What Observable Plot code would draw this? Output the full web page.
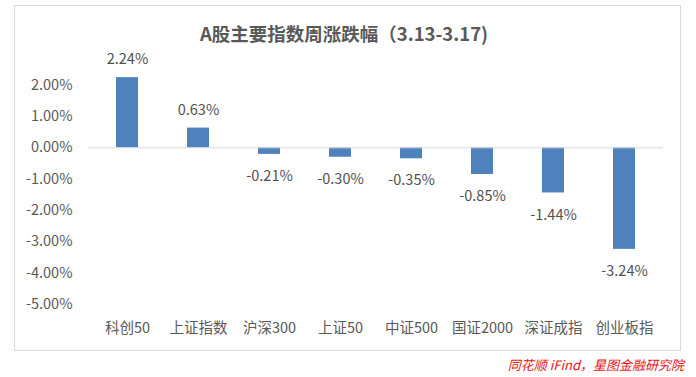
<!DOCTYPE html>
<html><head><meta charset="utf-8">
<script src="https://cdn.jsdelivr.net/npm/d3@7"></script>
<script src="https://cdn.jsdelivr.net/npm/@observablehq/plot@0.6"></script>
<style>
body{margin:0;background:#fff;font-family:"Noto Sans CJK SC","Noto Sans",sans-serif;}
#wrap{position:relative;width:696px;height:377px;overflow:hidden;}
#frame{position:absolute;left:14px;top:5px;width:667px;height:346px;border:1px solid #d9d9d9;box-sizing:border-box;}
#title{position:absolute;left:0;width:688px;top:19px;text-align:center;font-size:18.5px;font-weight:bold;color:#595959;line-height:28px;}
#chart{position:absolute;left:0;top:0;}
#cap{position:absolute;right:12px;top:356px;font-size:13px;font-style:italic;color:#e8141b;line-height:18px;}
</style></head><body>
<div id="wrap">
<div id="frame"></div>
<div id="title">A股主要指数周涨跌幅（3.13-3.17)</div>
<div id="chart"></div>
<div id="cap">同花顺 iFind，星图金融研究院</div>
</div>
<script>
const categories = ["科创50","上证指数","沪深300","上证50","中证500","国证2000","深证成指","创业板指"];
const values = [2.24, 0.63, -0.21, -0.30, -0.35, -0.85, -1.44, -3.24];
const yTicks = [2, 1, 0, -1, -2, -3, -4, -5];
const data = categories.map((c, i) => ({c, v: values[i]}));
const fmt = v => v.toFixed(2) + "%";
const plot = Plot.plot({
  width: 696, height: 340,
  marginLeft: 88, marginRight: 33, marginTop: 69, marginBottom: 36,
  style: {fontFamily: '"Noto Sans CJK SC","Noto Sans",sans-serif', fontSize: "14px", color: "#595959", background: "transparent"},
  x: {domain: categories, paddingInner: 0.69, paddingOuter: 0.345, label: null},
  y: {domain: [-5, 2.5], label: null},
  marks: [
    Plot.axisY({ticks: yTicks, tickFormat: fmt, tickSize: 0, tickPadding: 16, fontSize: 14.5, fill: "#595959"}),
    Plot.axisX({tickSize: 0, tickPadding: 18, fontSize: 14.5, fill: "#595959"}),
    Plot.barY(data, {x: "c", y: "v", fill: "#4f81bd"}),
    Plot.ruleY([0], {stroke: "#d9d9d9", strokeWidth: 1}),
    Plot.text(data, {x: "c", y: "v", text: d => fmt(d.v), fill: "#505050", fontSize: 14.5,
      filter: d => d.v >= 0, dy: -18}),
    Plot.text(data, {x: "c", y: "v", text: d => fmt(d.v), fill: "#505050", fontSize: 14.5,
      filter: d => d.v < 0, dy: 22})
  ]
});
document.getElementById("chart").appendChild(plot);
</script>
</body></html>
